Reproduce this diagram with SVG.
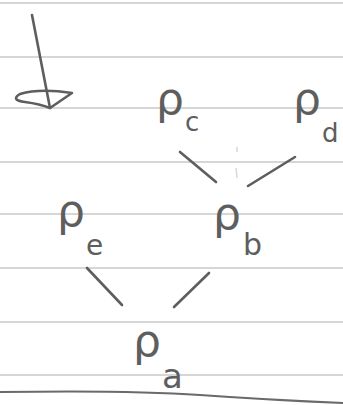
<svg xmlns="http://www.w3.org/2000/svg" width="343" height="405" viewBox="0 0 343 405">
<style>
.rule{stroke:#d6d6d6;stroke-width:2;fill:none}
.ink{stroke:#5e5e5e;stroke-width:2.6;stroke-linecap:round;stroke-linejoin:round;fill:none}
.rho{font-family:"DejaVu Sans",sans-serif;font-size:44px;fill:#5e5e5e}
.sub{font-family:"DejaVu Sans",sans-serif;fill:#5e5e5e}
</style>
<rect width="343" height="405" fill="#ffffff"/>
<g id="paper">
<line class="rule" x1="0" y1="3" x2="343" y2="3"/>
<line class="rule" x1="0" y1="57" x2="343" y2="57"/>
<line class="rule" x1="0" y1="108" x2="343" y2="108"/>
<line class="rule" x1="0" y1="162" x2="343" y2="162"/>
<line class="rule" x1="0" y1="214" x2="343" y2="214"/>
<line class="rule" x1="0" y1="268" x2="343" y2="268"/>
<line class="rule" x1="0" y1="322" x2="343" y2="322"/>
<line class="rule" x1="0" y1="375" x2="343" y2="375"/>
<path d="M0 392 Q130 390 200 395 T343 403" stroke="#6a6a6a" stroke-width="2" fill="none"/>
<path d="M237 147 L237 152 M236 168 L237 178" stroke="#d8d8d8" stroke-width="1.5"/>
</g>
<g id="mark">
<path class="ink" d="M32 15 L50 108"/>
<path class="ink" d="M50 108 L72 93 Q40 88 20 94 Q10 100 25 102 Q40 104 50 108"/>
</g>
<g id="connectors">
<line class="ink" x1="180" y1="152" x2="216" y2="182"/>
<line class="ink" x1="295" y1="157" x2="248" y2="186"/>
<line class="ink" x1="87" y1="268" x2="122" y2="305"/>
<line class="ink" x1="209" y1="273" x2="174" y2="307"/>
</g>
<g id="node-c"><text class="rho" x="156" y="114">ρ</text><text class="sub" x="185" y="131" font-size="26">c</text></g>
<g id="node-d"><text class="rho" x="293" y="114">ρ</text><text class="sub" x="322" y="142" font-size="26">d</text></g>
<g id="node-e"><text class="rho" x="57" y="226">ρ</text><text class="sub" x="86" y="255" font-size="28">e</text></g>
<g id="node-b"><text class="rho" x="213" y="229">ρ</text><text class="sub" x="243" y="255" font-size="30">b</text></g>
<g id="node-a"><text class="rho" x="133" y="356">ρ</text><text class="sub" x="162" y="388" font-size="34">a</text></g>
</svg>
